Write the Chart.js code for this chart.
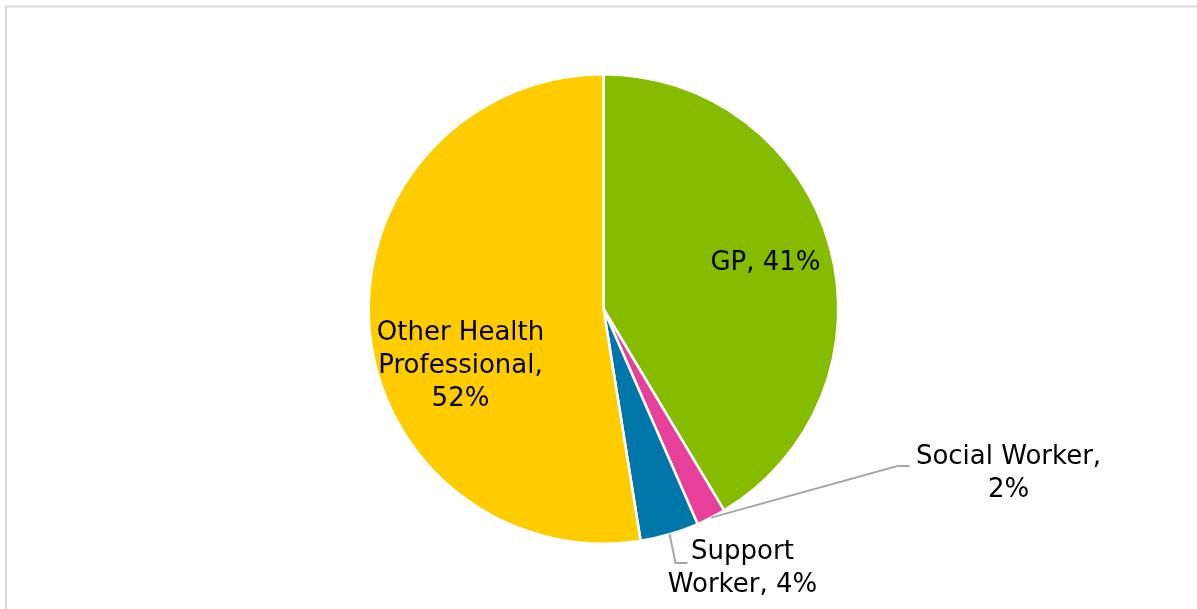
<!DOCTYPE html>
<html>
<head>
<meta charset="utf-8">
<title>Referrals by professional</title>
<script src="https://cdn.jsdelivr.net/npm/chart.js@4/dist/chart.umd.min.js"></script>
<style>
  html, body { margin: 0; padding: 0; background: #fff; }
  #wrap { width: 1197px; height: 609px; }
</style>
</head>
<body>
<div id="wrap"><canvas id="pie" width="1197" height="609"></canvas></div>
<script>
const categories = ['GP', 'Social Worker', 'Support Worker', 'Other Health Professional'];
const shares = [41, 2, 4, 52];
const sliceColours = ['#86bc00', '#e6409b', '#0077a8', '#ffcc00'];

// label text lines per slice
const labelLines = [
    ['GP, 41%'],
    ['Social Worker,', '2%'],
    ['Support', 'Worker, 4%'],
    ['Other Health', 'Professional,', '52%']
];

// where each label sits, relative to the pie centre; outside labels get a leader
const labelPlace = [
    { dx: 162, dy: -46 },
    { dx: 405, dy: 165, leader: [[294, 157], [306, 157]] },
    { dx: 139, dy: 260, leader: [[72, 254], [84, 254]] },
    { dx: -143, dy: 57 }
];

const fontSpec = '26px "DejaVu Sans", Verdana, sans-serif';
const lineGap = 33;

const frame = {
    id: 'frame',
    beforeDraw(chart) {
        const c = chart.ctx;
        c.save();
        c.strokeStyle = '#d9d9d9';
        c.lineWidth = 2;
        c.beginPath();
        c.moveTo(6, chart.height + 5);
        c.lineTo(6, 6.5);
        c.lineTo(chart.width + 5, 6.5);
        c.stroke();
        c.restore();
    }
};

const sliceLabels = {
    id: 'sliceLabels',
    afterDatasetsDraw(chart) {
        const c = chart.ctx;
        const arcs = chart.getDatasetMeta(0).data;
        c.save();
        c.font = fontSpec;
        c.fillStyle = '#000';
        c.textAlign = 'center';
        c.textBaseline = 'middle';
        arcs.forEach((arc, i) => {
            const { x, y, startAngle, endAngle, outerRadius } = arc.getProps(['x', 'y', 'startAngle', 'endAngle', 'outerRadius'], true);
            const place = labelPlace[i];
            if (place.leader) {
                const mid = (startAngle + endAngle) / 2;
                c.strokeStyle = '#a6a6a6';
                c.lineWidth = 2;
                c.beginPath();
                c.moveTo(x + Math.cos(mid) * outerRadius, y + Math.sin(mid) * outerRadius);
                place.leader.forEach(p => c.lineTo(x + p[0], y + p[1]));
                c.stroke();
            }
            const lines = labelLines[i];
            const top = y + place.dy - (lines.length - 1) * lineGap / 2;
            lines.forEach((t, k) => c.fillText(t, x + place.dx, top + k * lineGap));
        });
        c.restore();
    }
};

new Chart(document.getElementById('pie'), {
    type: 'pie',
    data: {
        labels: categories,
        datasets: [{
            data: shares,
            backgroundColor: sliceColours,
            borderColor: '#fff',
            borderWidth: 2.5
        }]
    },
    options: {
        responsive: false,
        animation: false,
        layout: {
            padding: { top: 73, bottom: 64, left: 10, right: 0 }
        },
        plugins: {
            legend: { display: false },
            tooltip: { enabled: false }
        }
    },
    plugins: [frame, sliceLabels]
});
</script>
</body>
</html>
